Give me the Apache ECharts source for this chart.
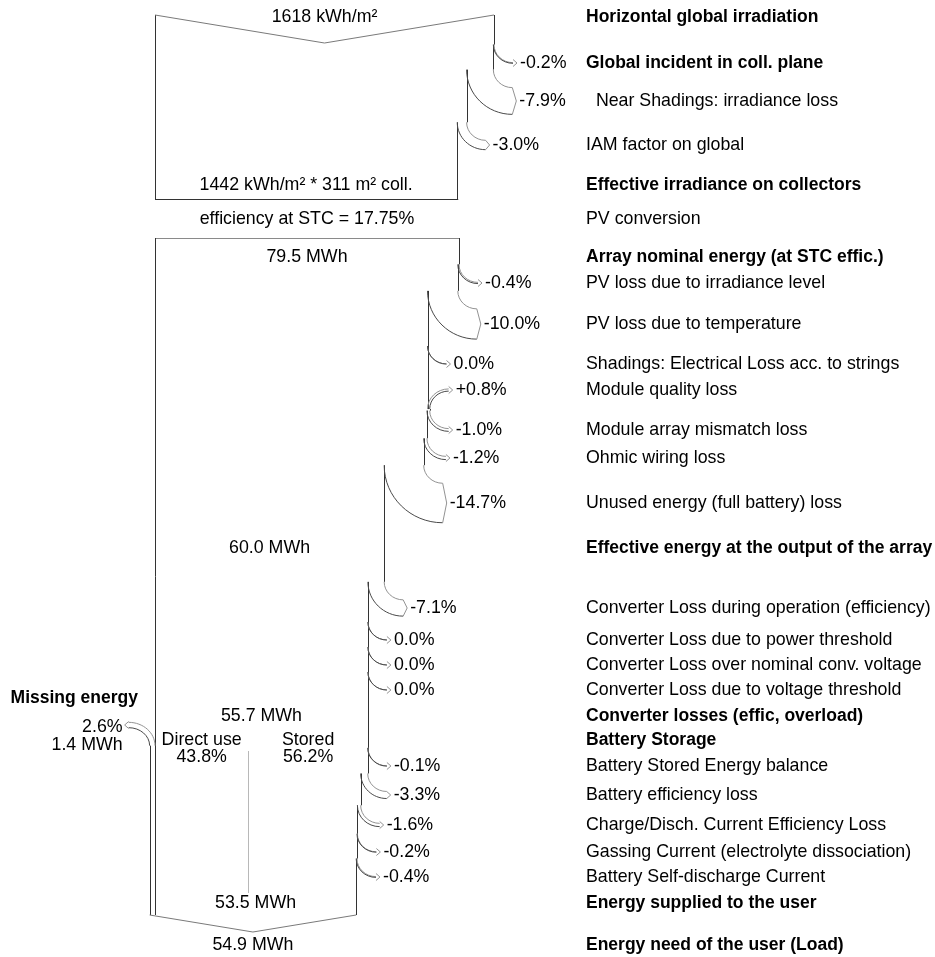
<!DOCTYPE html>
<html>
<head>
<meta charset="utf-8">
<title>Loss diagram</title>
<script src="https://cdn.jsdelivr.net/npm/echarts@6/dist/echarts.min.js"></script>
<style>
html,body{margin:0;padding:0;background:#fff;}
#chart{width:935px;height:957px;}
</style>
</head>
<body>
<div id="chart"></div>
<script>
// ===================== DATA =====================
const rowNames = [
  'Horizontal global irradiation',
  'Global incident in coll. plane',
  '  Near Shadings: irradiance loss',
  'IAM factor on global',
  'Effective irradiance on collectors',
  'PV conversion',
  'Array nominal energy (at STC effic.)',
  'PV loss due to irradiance level',
  'PV loss due to temperature',
  'Shadings: Electrical Loss acc. to strings',
  'Module quality loss',
  'Module array mismatch loss',
  'Ohmic wiring loss',
  'Unused energy (full battery) loss',
  'Effective energy at the output of the array',
  'Converter Loss during operation (efficiency)',
  'Converter Loss due to power threshold',
  'Converter Loss over nominal conv. voltage',
  'Converter Loss due to voltage threshold',
  'Converter losses (effic, overload)',
  'Battery Storage',
  'Battery Stored Energy balance',
  'Battery efficiency loss',
  'Charge/Disch. Current Efficiency Loss',
  'Gassing Current (electrolyte dissociation)',
  'Battery Self-discharge Current',
  'Energy supplied to the user',
  'Energy need of the user (Load)'
];

// irradiance part (kWh/m²)
const irrStart = 1618;
const irrLossRows = [1, 2, 3];
const irrLossPct = [-0.2, -7.9, -3.0];
const irrEffective = 1442;
const collArea = 311;
const stcEfficiency = 17.75;

// energy part (MWh)
const arrayNominal = 79.5;
const arrayLossRows = [7, 8, 9, 10, 11, 12, 13];
const arrayLossPct = [-0.4, -10.0, 0.0, 0.8, -1.0, -1.2, -14.7];
const arrayOutput = 60.0;
const convLossRows = [15, 16, 17, 18];
const convLossPct = [-7.1, 0.0, 0.0, 0.0];
const convOutput = 55.7;
const directUsePct = 43.8;
const storedPct = 56.2;
const battLossRows = [21, 22, 23, 24, 25];
const battLossPct = [-0.1, -3.3, -1.6, -0.2, -0.4];
const energySupplied = 53.5;
const energyNeed = 54.9;
const missingPct = 2.6;
const missingMWh = 1.4;

// ===================== LAYOUT (positions / styles) =====================
const boldRows = [0, 1, 4, 6, 14, 19, 20, 26, 27];
const rowY = [17, 63, 101, 145, 185, 219, 257, 283, 324, 364, 390, 430, 458, 503, 548,
              608, 640, 665, 690, 716, 740, 766, 795, 825, 852, 877, 903, 945];
const L = {
  W: 935, H: 957,
  flowLeftPx: 155, irrWidthPx: 339, energyWidthPx: 304,
  labelColumnX: 586,
  irrTopY: 15, irrChevron: 28, irrBottomY: 199,
  energyTopY: 238, bottomY: 915, bottomChevron: 17,
  dividerTop: 751, dividerBottom: 893,
  missingTitleY: 698, missingPctY: 727, missingMWhY: 745, missingTipY: 725,
  secondLineDy: 17
};
const R = 18, TIP = 19, HEAD = 4, K = 0.5523;
const FAM = '"Liberation Sans", Arial, Helvetica, sans-serif';
const FS = 17.8, FSB = 17.5;
const REG = FS + 'px ' + FAM;
const BOLD = 'bold ' + FSB + 'px ' + FAM;
const C_LINE = '#333333', C_DARK = '#4a4a4a', C_LIGHT = '#939393', C_GREY = '#b8b8b8';

// ===================== HELPERS =====================
function buildSteps(start, pcts, rows) {
  const out = []; let v = start;
  pcts.forEach((p, i) => { const nv = v * (1 + p / 100); out.push({ oldV: v, newV: nv, pct: p, row: rows[i] }); v = nv; });
  return out;
}
const irrSteps = buildSteps(irrStart, irrLossPct, irrLossRows);
const energySteps = buildSteps(arrayNominal,
  arrayLossPct.concat(convLossPct, battLossPct),
  arrayLossRows.concat(convLossRows, battLossRows));
const irrEnd = irrSteps[irrSteps.length - 1].newV;
const arrayEnd = energySteps[arrayLossPct.length - 1].newV;
const convEnd = energySteps[arrayLossPct.length + convLossPct.length - 1].newV;
const finalEnd = energySteps[energySteps.length - 1].newV;

const px = v => Math.round(v) + 0.5;
function vline(x, y1, y2, c) { return { type: 'line', silent: true, shape: { x1: px(x), y1: y1, x2: px(x), y2: y2 }, style: { stroke: c || C_LINE, lineWidth: 1 } }; }
function hline(x1, x2, y, c) { return { type: 'line', silent: true, shape: { x1: x1, y1: px(y), x2: x2, y2: px(y) }, style: { stroke: c || C_LINE, lineWidth: 1 } }; }
function poly(points, c) { return { type: 'polyline', silent: true, shape: { points: points }, style: { stroke: c || C_LINE, fill: null, lineWidth: 1 } }; }
function curve(ex, ey, tx, ty, c) {
  return { type: 'bezierCurve', silent: true,
    shape: { x1: ex, y1: ey, cpx1: ex, cpy1: ey + K * (ty - ey), cpx2: tx - K * (tx - ex), cpy2: ty, x2: tx, y2: ty },
    style: { stroke: c, fill: null, lineWidth: 1 } };
}
function txt(x, y, s, align, font) {
  return { type: 'text', silent: true, x: x, y: y,
    style: { text: s, fill: '#000', font: font || REG, align: align || 'left', verticalAlign: 'middle' } };
}
function fmtPct(p) { return (p > 0 ? '+' : '') + p.toFixed(1) + '%'; }

function stepGeom(api, s) {
  const pOld = api.coord([s.oldV, rowY[s.row]]);
  const pNew = api.coord([s.newV, rowY[s.row]]);
  const tipY = pOld[1];
  const w = Math.abs(pNew[0] - pOld[0]);
  const gain = s.newV > s.oldV;
  const y0 = gain ? tipY + w / 2 + R : tipY - w / 2 - R;
  const tipX = Math.max(pOld[0], pNew[0]) + TIP;
  return { xo: pOld[0], xn: pNew[0], tipY: tipY, w: w, y0: y0, tipX: tipX };
}

function stepRenderer(steps, topY, endY) {
  return function (params, api) {
    const i = params.dataIndex;
    const s = steps[i];
    const g = stepGeom(api, s);
    const yEnd = api.coord([0, endY])[1];
    const yTop = api.coord([0, topY])[1];
    const nextY = i + 1 < steps.length ? stepGeom(api, steps[i + 1]).y0 : yEnd;
    const h = Math.max(g.w / 2, 3.5);
    const kids = [];
    if (i === 0) kids.push(vline(g.xo, yTop, g.y0));
    kids.push(vline(g.xn, g.y0, nextY));
    kids.push(curve(g.xo, g.y0, g.tipX, g.tipY - g.w / 2, C_LIGHT));
    kids.push(curve(g.xn, g.y0, g.tipX, g.tipY + g.w / 2, C_DARK));
    kids.push(poly([[g.tipX, g.tipY - h], [g.tipX + HEAD, g.tipY], [g.tipX, g.tipY + h]], C_LIGHT));
    kids.push(txt(g.tipX + HEAD + 3, g.tipY, fmtPct(s.pct)));
    return { type: 'group', children: kids };
  };
}

// ===================== CHART =====================
const chart = echarts.init(document.getElementById('chart'), null, { renderer: 'canvas' });
const irrPerPx = irrStart / L.irrWidthPx;
const enPerPx = arrayNominal / L.energyWidthPx;

const option = {
  animation: false,
  backgroundColor: '#fff',
  grid: { left: 0, right: 0, top: 0, bottom: 0 },
  xAxis: [
    { type: 'value', show: false, min: -L.flowLeftPx * irrPerPx, max: (L.W - L.flowLeftPx) * irrPerPx },
    { type: 'value', show: false, min: -L.flowLeftPx * enPerPx, max: (L.W - L.flowLeftPx) * enPerPx }
  ],
  yAxis: [{ type: 'value', show: false, inverse: true, min: 0, max: L.H }],
  series: [
    // right column labels
    {
      type: 'custom', name: 'labels', xAxisIndex: 1, yAxisIndex: 0,
      data: rowNames.map((n, i) => ({ name: n, value: [0, rowY[i]] })),
      renderItem: function (params, api) {
        const i = params.dataIndex;
        const y = api.coord([0, rowY[i]])[1];
        return txt(L.labelColumnX, y, rowNames[i], 'left', boldRows.indexOf(i) >= 0 ? BOLD : REG);
      }
    },
    // irradiance block outline + texts
    {
      type: 'custom', name: 'irradiance', xAxisIndex: 0, yAxisIndex: 0,
      data: [[irrStart, irrEnd]],
      renderItem: function (params, api) {
        const start = api.value(0), end = api.value(1);
        const tl = api.coord([0, L.irrTopY]);
        const mid = api.coord([start / 2, L.irrTopY + L.irrChevron]);
        const tr = api.coord([start, L.irrTopY]);
        const bl = api.coord([0, L.irrBottomY]);
        const br = api.coord([end, L.irrBottomY]);
        return { type: 'group', children: [
          vline(tl[0], tl[1], bl[1]),
          poly([[tl[0], tl[1]], mid, [tr[0], tr[1]]], '#7a7a7a'),
          hline(bl[0], br[0] + 1, bl[1]),
          txt(api.coord([start / 2, 0])[0], api.coord([0, rowY[0]])[1], start + ' kWh/m²', 'center'),
          txt(api.coord([end / 2, 0])[0], api.coord([0, rowY[4]])[1], irrEffective + ' kWh/m² * ' + collArea + ' m² coll.', 'center')
        ] };
      }
    },
    { type: 'custom', name: 'irrLosses', xAxisIndex: 0, yAxisIndex: 0,
      data: irrSteps.map(s => [s.oldV, s.newV]),
      renderItem: stepRenderer(irrSteps, L.irrTopY, L.irrBottomY) },
    // energy block outline + texts
    {
      type: 'custom', name: 'energy', xAxisIndex: 1, yAxisIndex: 0,
      data: [[arrayNominal, finalEnd]],
      renderItem: function (params, api) {
        const start = api.value(0), end = api.value(1);
        const c = (v, y) => api.coord([v, y]);
        const tl = c(0, L.energyTopY), tr = c(start, L.energyTopY);
        const bl = c(0, L.bottomY);
        const ml = c(-missingMWh, L.bottomY);
        const bm = c((end - missingMWh) / 2, L.bottomY + L.bottomChevron);
        const br = c(end, L.bottomY);
        // missing energy gain band (left side)
        const tip = c(0, L.missingTipY);
        const mw = Math.abs(bl[0] - ml[0]);
        const mTipX = Math.min(bl[0], ml[0]) - TIP - 2;
        const my0 = tip[1] + mw / 2 + R;
        const dv = c(convOutput * directUsePct / 100, L.dividerTop);
        const dvb = c(0, L.dividerBottom);
        const y = i => c(0, rowY[i])[1];
        const cx = v => c(v, 0)[0];
        const mh = Math.max(mw / 2, 3.5);
        return { type: 'group', children: [
          hline(tl[0], tr[0] + 1, tl[1], '#8a8a8a'),
          vline(tl[0], tl[1], bl[1]),
          vline(ml[0], my0, ml[1]),
          poly([[ml[0], ml[1]], bm, [br[0], br[1]]], '#7a7a7a'),
          curve(bl[0], my0, mTipX, tip[1] - mw / 2, C_LIGHT),
          curve(ml[0], my0, mTipX, tip[1] + mw / 2, C_DARK),
          poly([[mTipX, tip[1] - mh], [mTipX - HEAD, tip[1]], [mTipX, tip[1] + mh]], C_LIGHT),
          vline(dv[0], dv[1], dvb[1], C_GREY),
          txt(cx(start / 2), y(5), 'efficiency at STC = ' + stcEfficiency.toFixed(2) + '%', 'center'),
          txt(cx(start / 2), y(6), start.toFixed(1) + ' MWh', 'center'),
          txt(cx(arrayEnd / 2), y(14), arrayOutput.toFixed(1) + ' MWh', 'center'),
          txt(cx(convEnd / 2), y(19), convOutput.toFixed(1) + ' MWh', 'center'),
          txt(cx(convOutput * directUsePct / 200), y(20), 'Direct use', 'center'),
          txt(cx(convOutput * directUsePct / 200), y(20) + L.secondLineDy, directUsePct.toFixed(1) + '%', 'center'),
          txt(cx((convOutput * directUsePct / 100 + convEnd) / 2), y(20), 'Stored', 'center'),
          txt(cx((convOutput * directUsePct / 100 + convEnd) / 2), y(20) + L.secondLineDy, storedPct.toFixed(1) + '%', 'center'),
          txt(cx(end / 2), y(26), energySupplied.toFixed(1) + ' MWh', 'center'),
          txt(cx((end - missingMWh) / 2), y(27), energyNeed.toFixed(1) + ' MWh', 'center'),
          txt(bl[0] - 17, c(0, L.missingTitleY)[1], 'Missing energy', 'right', BOLD),
          txt(mTipX - 6, c(0, L.missingPctY)[1], missingPct.toFixed(1) + '%', 'right'),
          txt(mTipX - 6, c(0, L.missingMWhY)[1], missingMWh.toFixed(1) + ' MWh', 'right')
        ] };
      }
    },
    { type: 'custom', name: 'energyLosses', xAxisIndex: 1, yAxisIndex: 0,
      data: energySteps.map(s => [s.oldV, s.newV]),
      renderItem: stepRenderer(energySteps, L.energyTopY, L.bottomY) }
  ]
};
chart.setOption(option);
</script>
</body>
</html>
